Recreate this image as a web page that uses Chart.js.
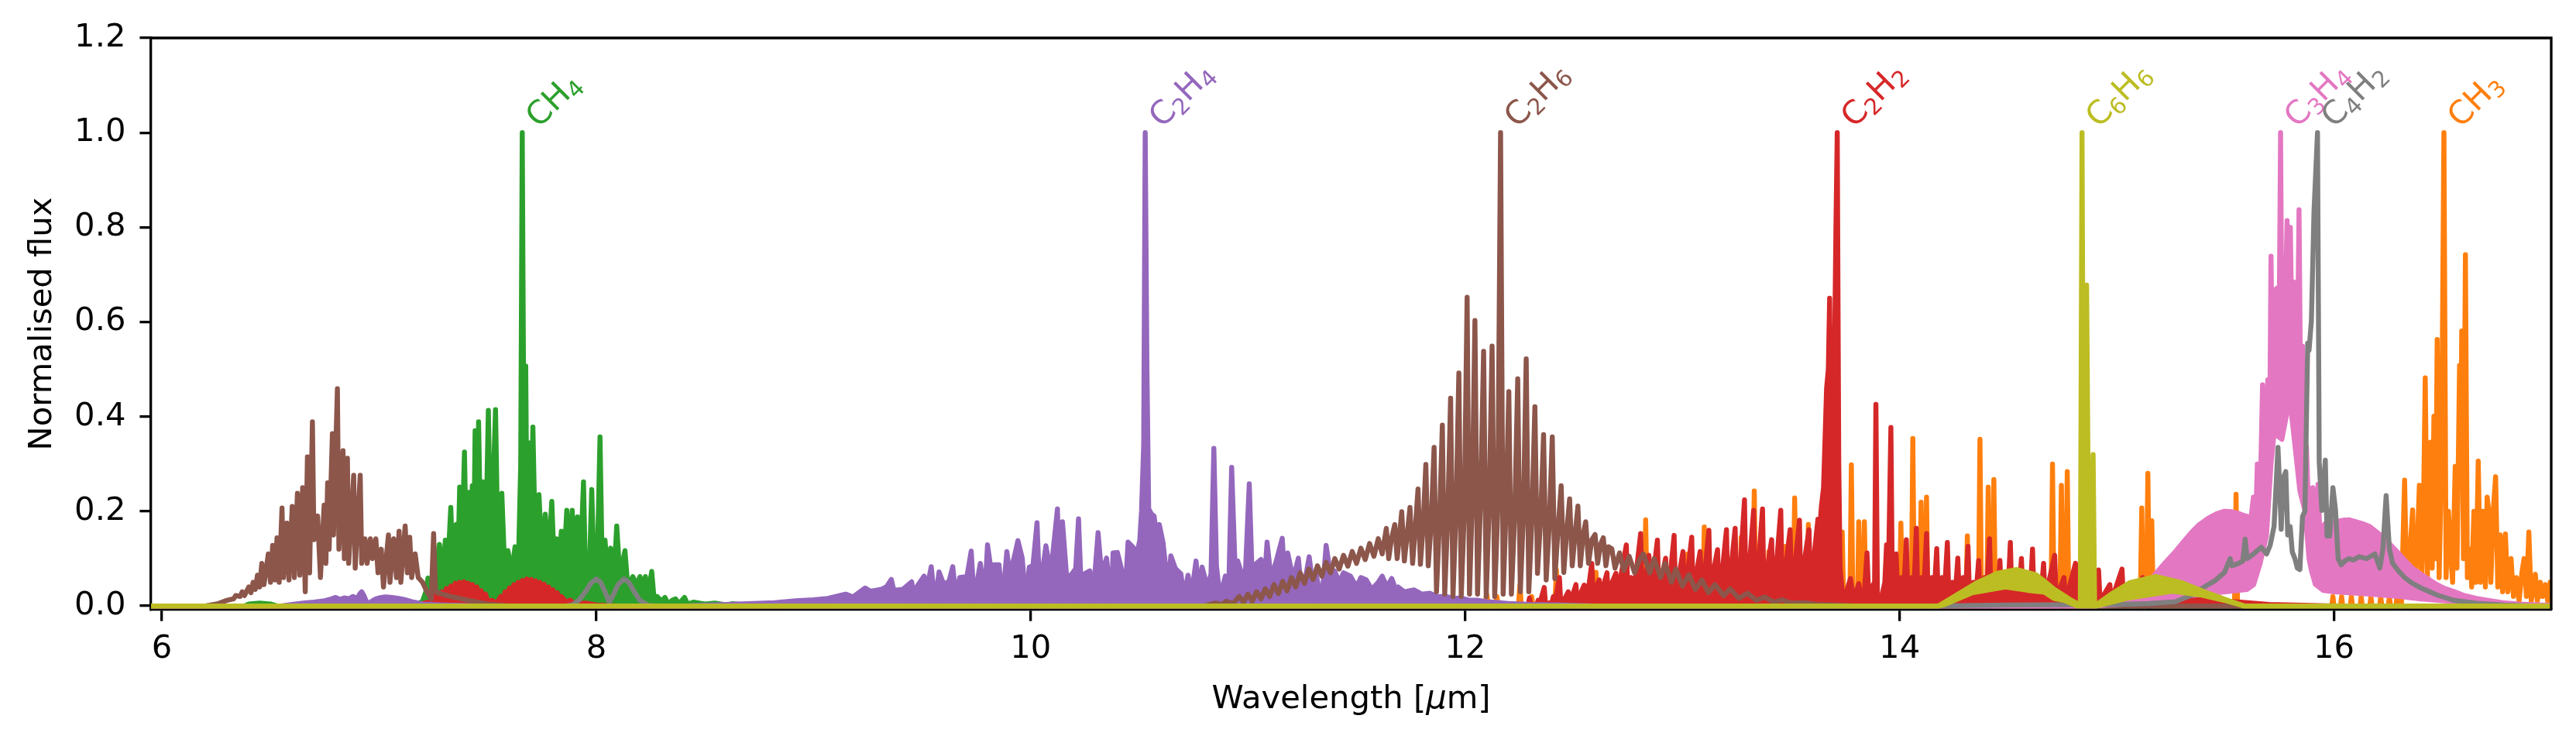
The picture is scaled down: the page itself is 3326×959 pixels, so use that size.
<!DOCTYPE html>
<html>
<head>
<meta charset="utf-8">
<script src="https://cdn.jsdelivr.net/npm/chart.js@4.4.1/dist/chart.umd.min.js"></script>
<style>
  html, body { margin: 0; padding: 0; background: #fff; }
  #wrap { width: 3326px; height: 959px; }
</style>
</head>
<body>
<div id="wrap"><canvas id="spectra" width="3326" height="959"></canvas></div>
<script>
// axis ticks
const xTicks = [6, 8, 10, 12, 14, 16];
const yTicks = [0, 0.2, 0.4, 0.6, 0.8, 1.0, 1.2];

// peak labels (molecule, wavelength of its strongest line)
const labelText = ['CH4', 'C2H4', 'C2H6', 'C2H2', 'C6H6', 'C3H4', 'C4H2', 'CH3'];
const labelX = [7.659, 10.527, 12.163, 13.713, 14.84, 15.754, 15.924, 16.506];

// spectra, [wavelength um, normalised flux]
const ch3Pts = [[5.9,0],[12.09,0],[12.099,0.025],[12.108,0],[12.14,0],[12.146,0.02],[12.152,0],[12.245,0],[12.252,0.044],[12.259,0],[12.3,0],[12.306,0.02],[12.312,0],[12.413,0],[12.42,0.076],[12.427,0],[12.595,0],[12.602,0.071],[12.609,0],
  [12.824,0],[12.831,0.182],[12.838,0],[13.018,0],[13.025,0.11],[13.032,0],[13.094,0],[13.101,0.167],[13.108,0],[13.18,0],[13.186,0.085],[13.192,0],[13.226,0],[13.232,0.085],[13.238,0],[13.264,0],[13.271,0.145],[13.278,0],[13.324,0],[13.331,0.243],[13.338,0],
  [13.391,0],[13.398,0.115],[13.405,0],[13.468,0],[13.475,0.126],[13.482,0],[13.51,0],[13.517,0.228],[13.524,0],[13.573,0],[13.58,0.172],[13.587,0],[13.655,0],[13.662,0.137],[13.669,0],[13.729,0],[13.736,0.156],[13.743,0],[13.771,0],[13.778,0.298],[13.785,0],
  [13.806,0],[13.812,0.178],[13.82,0.02],[13.832,0],[13.838,0.178],[13.845,0],[13.999,0],[14.006,0.175],[14.013,0],[14.054,0],[14.061,0.354],[14.068,0],[14.092,0],[14.099,0.219],[14.106,0.03],[14.117,0],[14.124,0.23],[14.131,0],
  [14.305,0],[14.312,0.148],[14.319,0],[14.363,0],[14.37,0.352],[14.377,0],[14.401,0],[14.408,0.251],[14.415,0.03],[14.427,0],[14.434,0.267],[14.441,0],[14.697,0],[14.704,0.3],[14.711,0],[14.738,0],[14.745,0.255],[14.752,0.02],[14.765,0],[14.772,0.284],[14.779,0],
  [15.108,0],[15.115,0.207],[15.122,0],[15.136,0],[15.143,0.28],[15.15,0.02],[15.156,0],[15.161,0.18],[15.168,0],[15.542,0],[15.549,0.236],[15.556,0],
  [15.99,0],[15.995,0.02],[16.0,0],[16.03,0],[16.035,0.02],[16.04,0],[16.075,0],[16.08,0.02],[16.085,0],[16.12,0],[16.125,0.02],[16.13,0],[16.165,0],[16.17,0.02],[16.175,0],[16.21,0],[16.215,0.02],[16.22,0],[16.25,0],[16.255,0.02],[16.26,0],[16.285,0],[16.29,0.02],[16.31,0],
  [16.325,0.266],[16.335,0.03],[16.35,0.12],[16.362,0.203],[16.372,0.03],[16.385,0.15],[16.393,0.255],[16.403,0.04],[16.412,0.2],[16.42,0.482],[16.43,0.06],[16.438,0.25],[16.445,0.346],[16.452,0.08],[16.46,0.401],[16.467,0.1],[16.475,0.563],[16.484,0.06],[16.495,0.3],[16.506,1.0],
  [16.516,0.06],[16.527,0.2],[16.536,0.119],[16.546,0.05],[16.558,0.295],[16.566,0.08],[16.578,0.508],[16.583,0.3],[16.588,0.581],[16.596,0.1],[16.605,0.742],[16.614,0.06],[16.626,0.12],[16.634,0.04],[16.644,0.2],[16.654,0.05],[16.664,0.306],[16.674,0.05],[16.686,0.2],
  [16.697,0.04],[16.705,0.23],[16.713,0.2],[16.722,0.05],[16.733,0.2],[16.744,0.273],[16.754,0.04],[16.765,0.15],[16.776,0.03],[16.789,0.152],[16.8,0.03],[16.815,0.1],[16.826,0.02],[16.84,0.06],[16.852,0.01],[16.865,0.07],[16.875,0.1],[16.886,0.02],[16.897,0.156],
  [16.908,0.01],[16.918,0.04],[16.927,0.067],[16.936,0.01],[16.95,0.05],[16.96,0.02],[16.973,0.045],[16.984,0.01],[16.995,0.05],[17.01,0.02],[17.05,0]];

const ch4Pts = [[5.9,0],[6.38,0],[6.4,0.004],[6.45,0.006],[6.5,0.004],[6.53,0],[7.15,0],[7.18,0.005],[7.2,0.01],[7.215,0.03],[7.225,0.059],[7.235,0.02],[7.25,0.04],[7.265,0.08],[7.278,0.13],[7.29,0.06],[7.305,0.139],[7.315,0.07],[7.33,0.208],[7.34,0.08],
  [7.355,0.172],[7.363,0.09],[7.371,0.251],[7.38,0.1],[7.393,0.325],[7.402,0.1],[7.412,0.24],[7.42,0.11],[7.429,0.254],[7.436,0.12],[7.442,0.37],[7.45,0.12],[7.458,0.389],[7.468,0.12],[7.478,0.262],[7.49,0.11],[7.503,0.413],[7.515,0.1],[7.536,0.415],[7.548,0.09],
  [7.565,0.238],[7.578,0.08],[7.593,0.117],[7.61,0.07],[7.626,0.125],[7.64,0.06],[7.652,0.3],[7.659,1.0],[7.667,0.3],[7.675,0.507],[7.681,0.15],[7.688,0.345],[7.698,0.12],[7.708,0.378],[7.72,0.11],[7.736,0.235],[7.75,0.1],[7.765,0.194],[7.78,0.1],[7.795,0.221],
  [7.806,0.09],[7.818,0.142],[7.828,0.08],[7.839,0.158],[7.85,0.08],[7.864,0.202],[7.876,0.09],[7.889,0.202],[7.9,0.08],[7.913,0.188],[7.925,0.07],[7.941,0.262],[7.95,0.07],[7.958,0.109],[7.968,0.07],[7.979,0.246],[7.99,0.06],[8.005,0.1],[8.017,0.357],[8.028,0.06],
  [8.04,0.139],[8.053,0.06],[8.066,0.122],[8.08,0.05],[8.094,0.169],[8.11,0.05],[8.12,0.09],[8.132,0.117],[8.145,0.04],[8.168,0.062],[8.185,0.045],[8.201,0.062],[8.215,0.04],[8.226,0.062],[8.24,0.03],[8.255,0.073],[8.265,0.02],[8.28,0.02],[8.3,0.01],[8.316,0.018],
  [8.33,0.005],[8.35,0.012],[8.365,0.015],[8.38,0.005],[8.406,0.018],[8.42,0.004],[8.447,0.008],[8.5,0.004],[8.546,0.006],[8.6,0.002],[8.628,0.005],[8.7,0.001],[8.743,0.003],[8.9,0],[17.1,0]];

const c2h2Pts = [[5.9,0],[7.15,0],[7.2,0.005],[7.24,0.01],[7.25,0.032],[7.262,0.008],[7.28,0.02],[7.29,0.03],[7.3,0.015],[7.31,0.037],[7.32,0.02],[7.33,0.042],[7.34,0.025],[7.35,0.048],[7.36,0.028],[7.37,0.05],[7.38,0.03],[7.39,0.051],[7.4,0.03],[7.41,0.048],
  [7.42,0.028],[7.43,0.045],[7.44,0.025],[7.45,0.04],[7.46,0.02],[7.47,0.032],[7.48,0.015],[7.49,0.025],[7.5,0.01],[7.52,0.012],[7.54,0.005],[7.56,0.02],[7.57,0.008],[7.58,0.03],[7.59,0.015],[7.6,0.038],[7.61,0.02],[7.62,0.045],[7.63,0.025],[7.64,0.05],
  [7.65,0.03],[7.66,0.054],[7.67,0.032],[7.68,0.057],[7.69,0.032],[7.7,0.056],[7.71,0.03],[7.72,0.053],[7.73,0.028],[7.74,0.05],[7.75,0.025],[7.76,0.046],[7.77,0.022],[7.78,0.04],[7.79,0.018],[7.8,0.034],[7.81,0.014],[7.82,0.028],[7.83,0.01],[7.84,0.02],
  [7.86,0.008],[7.88,0.012],[7.9,0.004],[7.95,0.006],[8.0,0.002],[8.1,0],[12.2,0],[12.29,0.002],[12.296,0.017],[12.302,0.002],[12.33,0.004],[12.336,0.012],[12.342,0.003],[12.364,0.039],[12.37,0.004],[12.4,0.008],[12.406,0.02],[12.412,0.005],[12.434,0.06],[12.44,0.006],
  [12.455,0.012],[12.475,0.03],[12.48,0.006],[12.493,0.02],[12.51,0.045],[12.516,0.008],[12.53,0.025],[12.548,0.044],[12.554,0.008],[12.566,0.03],[12.583,0.09],[12.59,0.01],[12.6,0.035],[12.617,0.055],[12.623,0.01],[12.635,0.04],[12.653,0.07],[12.66,0.01],[12.672,0.045],[12.694,0.069],
  [12.7,0.012],[12.712,0.05],[12.742,0.129],[12.75,0.015],[12.765,0.06],[12.775,0.02],[12.808,0.153],[12.815,0.015],[12.828,0.055],[12.846,0.107],[12.853,0.015],[12.865,0.06],[12.885,0.139],[12.892,0.015],[12.905,0.06],[12.923,0.101],[12.93,0.015],[12.943,0.06],[12.962,0.149],[12.969,0.015],
  [12.983,0.06],[13.003,0.115],[13.01,0.015],[13.023,0.065],[13.043,0.145],[13.05,0.015],[13.063,0.065],[13.082,0.115],[13.089,0.015],[13.102,0.065],[13.122,0.16],[13.129,0.015],[13.142,0.07],[13.162,0.119],[13.169,0.015],[13.183,0.07],[13.203,0.161],[13.21,0.015],[13.222,0.07],[13.243,0.164],
  [13.25,0.015],[13.265,0.07],[13.286,0.224],[13.293,0.015],[13.307,0.075],[13.328,0.202],[13.335,0.015],[13.348,0.075],[13.369,0.205],[13.376,0.015],[13.39,0.075],[13.411,0.14],[13.418,0.015],[13.432,0.08],[13.453,0.202],[13.46,0.015],[13.475,0.08],[13.496,0.161],[13.503,0.02],[13.517,0.08],
  [13.539,0.181],[13.546,0.02],[13.56,0.09],[13.583,0.161],[13.59,0.03],[13.605,0.1],[13.624,0.183],[13.632,0.16],[13.64,0.21],[13.65,0.25],[13.664,0.46],[13.672,0.5],[13.678,0.65],[13.685,0.29],[13.692,0.33],[13.7,0.5],[13.707,0.8],[13.713,1.0],[13.72,0.3],[13.726,0.08],
  [13.736,0.03],[13.75,0.02],[13.762,0.04],[13.774,0.058],[13.785,0.02],[13.8,0.03],[13.812,0.047],[13.822,0.02],[13.838,0.03],[13.85,0.112],[13.858,0.02],[13.872,0.04],[13.885,0.05],[13.891,0.426],[13.898,0.02],[13.915,0.014],[13.932,0.05],[13.94,0.129],[13.947,0.02],[13.96,0.377],
  [13.967,0.02],[13.984,0.11],[13.992,0.02],[14.008,0.06],[14.018,0.015],[14.031,0.14],[14.038,0.015],[14.055,0.06],[14.065,0.015],[14.077,0.164],[14.084,0.015],[14.1,0.06],[14.11,0.015],[14.124,0.153],[14.131,0.015],[14.148,0.06],[14.158,0.015],[14.171,0.121],[14.178,0.015],[14.195,0.06],
  [14.205,0.015],[14.22,0.134],[14.227,0.015],[14.244,0.05],[14.255,0.015],[14.268,0.101],[14.275,0.015],[14.292,0.06],[14.302,0.015],[14.315,0.126],[14.322,0.015],[14.34,0.05],[14.35,0.015],[14.364,0.096],[14.371,0.015],[14.39,0.06],[14.4,0.015],[14.414,0.142],[14.421,0.015],[14.44,0.05],
  [14.45,0.015],[14.462,0.096],[14.469,0.015],[14.488,0.05],[14.498,0.015],[14.51,0.134],[14.517,0.015],[14.535,0.05],[14.548,0.015],[14.561,0.1],[14.568,0.015],[14.588,0.05],[14.6,0.015],[14.612,0.12],[14.619,0.015],[14.64,0.05],[14.65,0.015],[14.663,0.09],[14.67,0.015],[14.714,0.107],
  [14.721,0.015],[14.757,0.06],[14.764,0.01],[14.81,0.09],[14.817,0.01],[14.87,0.04],[14.877,0.01],[14.916,0.076],[14.923,0.01],[14.968,0.045],[14.975,0.01],[15.024,0.078],[15.031,0.008],[15.081,0.03],[15.088,0.008],[15.119,0.06],[15.126,0.008],[15.179,0.023],[15.186,0.006],[15.24,0.03],
  [15.247,0.006],[15.285,0.02],[15.292,0.005],[15.345,0.015],[15.42,0.012],[15.5,0.01],[15.57,0.008],[15.7,0.003],[16.0,0],[17.1,0]];

const c2h4Pts = [[5.9,0],[6.55,0],[6.6,0.003],[6.65,0.006],[6.7,0.008],[6.75,0.011],[6.78,0.015],[6.8,0.018],[6.82,0.014],[6.84,0.017],[6.86,0.015],[6.88,0.02],[6.9,0.016],[6.91,0.025],[6.92,0.03],[6.93,0.022],[6.945,0.005],[6.96,0.008],[6.98,0.014],[7.0,0.017],
  [7.03,0.019],[7.06,0.018],[7.09,0.016],[7.12,0.013],[7.16,0.008],[7.2,0.004],[7.3,0.002],[7.5,0],[8.4,0],[8.6,0.003],[8.82,0.007],[8.918,0.011],[9.0,0.013],[9.066,0.016],[9.148,0.025],[9.181,0.019],[9.238,0.038],[9.263,0.031],[9.312,0.035],[9.337,0.041],
  [9.358,0.056],[9.37,0.033],[9.411,0.035],[9.452,0.051],[9.463,0.007],[9.476,0.041],[9.509,0.063],[9.526,0.046],[9.542,0.083],[9.558,0.007],[9.578,0.072],[9.599,0.046],[9.624,0.052],[9.641,0.083],[9.657,0.014],[9.673,0.06],[9.706,0.062],[9.726,0.116],[9.739,0.014],[9.768,0.09],
  [9.788,0.019],[9.801,0.129],[9.818,0.074],[9.829,0.087],[9.854,0.087],[9.87,0.007],[9.89,0.115],[9.903,0.068],[9.923,0.101],[9.941,0.138],[9.961,0.101],[9.977,0.007],[9.993,0.082],[10.01,0.085],[10.029,0.176],[10.043,0.007],[10.054,0.074],[10.07,0.127],[10.092,0.068],[10.123,0.205],
  [10.133,0.007],[10.146,0.178],[10.166,0.057],[10.19,0.068],[10.207,0.079],[10.22,0.184],[10.235,0.007],[10.248,0.068],[10.272,0.074],[10.285,0.007],[10.31,0.155],[10.326,0.068],[10.349,0.101],[10.371,0.007],[10.379,0.112],[10.399,0.113],[10.42,0.074],[10.436,0.033],[10.448,0.135],[10.469,0.125],
  [10.49,0.112],[10.502,0.139],[10.51,0.2],[10.52,0.34],[10.527,1.0],[10.535,0.5],[10.543,0.205],[10.556,0.194],[10.568,0.19],[10.579,0.15],[10.592,0.172],[10.609,0.134],[10.625,0.068],[10.633,0.038],[10.645,0.106],[10.666,0.079],[10.691,0.068],[10.707,0.019],[10.724,0.065],[10.74,0.025],
  [10.761,0.095],[10.776,0.025],[10.789,0.082],[10.814,0.038],[10.83,0.068],[10.843,0.333],[10.855,0.085],[10.871,0.019],[10.896,0.063],[10.912,0.046],[10.925,0.293],[10.94,0.09],[10.953,0.095],[10.986,0.046],[11.006,0.258],[11.019,0.068],[11.039,0.09],[11.06,0.098],[11.071,0.019],[11.088,0.135],
  [11.104,0.068],[11.117,0.074],[11.134,0.101],[11.158,0.143],[11.171,0.041],[11.183,0.112],[11.208,0.057],[11.232,0.101],[11.249,0.019],[11.282,0.104],[11.298,0.046],[11.314,0.068],[11.339,0.007],[11.36,0.128],[11.379,0.068],[11.399,0.074],[11.42,0.05],[11.44,0.07],[11.472,0.063],[11.5,0.04],
  [11.52,0.06],[11.545,0.055],[11.57,0.035],[11.6,0.05],[11.618,0.063],[11.64,0.04],[11.662,0.058],[11.68,0.035],[11.691,0.04],[11.72,0.03],[11.764,0.034],[11.8,0.025],[11.837,0.027],[11.87,0.02],[11.91,0.02],[11.95,0.016],[11.982,0.017],[12.02,0.012],[12.055,0.012],[12.1,0.009],
  [12.128,0.008],[12.2,0.005],[12.3,0.003],[12.45,0.002],[12.6,0],[17.1,0]];

const c2h6Pts = [[5.9,0],[6.2,0],[6.26,0.005],[6.3,0.012],[6.33,0.015],[6.34,0.022],[6.36,0.02],[6.37,0.03],[6.38,0.022],[6.4,0.04],[6.41,0.028],[6.42,0.05],[6.43,0.035],[6.44,0.065],[6.45,0.04],[6.46,0.09],[6.47,0.045],[6.49,0.11],[6.5,0.05],[6.51,0.128],
  [6.52,0.055],[6.53,0.144],[6.54,0.05],[6.553,0.207],[6.56,0.06],[6.575,0.175],[6.585,0.055],[6.6,0.21],[6.61,0.06],[6.624,0.238],[6.635,0.065],[6.648,0.25],[6.66,0.03],[6.67,0.315],[6.68,0.07],[6.693,0.389],[6.7,0.14],[6.717,0.19],[6.73,0.06],[6.747,0.213],
  [6.755,0.09],[6.763,0.26],[6.77,0.12],[6.785,0.364],[6.79,0.15],[6.808,0.459],[6.815,0.12],[6.834,0.328],[6.84,0.1],[6.854,0.312],[6.86,0.09],[6.883,0.276],[6.89,0.08],[6.913,0.276],[6.92,0.09],[6.935,0.142],[6.945,0.09],[6.96,0.142],[6.97,0.1],[6.985,0.142],
  [6.995,0.07],[7.01,0.12],[7.02,0.04],[7.043,0.15],[7.05,0.05],[7.067,0.142],[7.08,0.06],[7.092,0.158],[7.1,0.05],[7.12,0.169],[7.13,0.07],[7.141,0.145],[7.15,0.06],[7.166,0.11],[7.18,0.06],[7.2,0.05],[7.22,0.03],[7.24,0.015],[7.251,0.153],[7.26,0.03],
  [7.29,0.025],[7.33,0.02],[7.38,0.015],[7.45,0.008],[7.5,0.004],[7.6,0],[10.8,0],[10.85,0.006],[10.88,0.003],[10.9,0.01],[10.93,0.005],[10.96,0.02],[10.98,0.008],[11.0,0.025],[11.02,0.01],[11.04,0.03],[11.06,0.015],[11.08,0.036],[11.1,0.02],[11.12,0.045],
  [11.14,0.026],[11.16,0.052],[11.18,0.032],[11.2,0.06],[11.22,0.04],[11.24,0.07],[11.26,0.048],[11.28,0.078],[11.3,0.056],[11.32,0.085],[11.34,0.063],[11.36,0.092],[11.38,0.07],[11.4,0.1],[11.42,0.078],[11.44,0.107],[11.46,0.084],[11.48,0.115],[11.5,0.09],[11.52,0.122],
  [11.54,0.098],[11.56,0.132],[11.58,0.105],[11.6,0.142],[11.618,0.11],[11.637,0.164],[11.648,0.1],[11.66,0.14],[11.676,0.172],[11.687,0.1],[11.697,0.145],[11.708,0.199],[11.72,0.095],[11.733,0.15],[11.746,0.208],[11.758,0.09],[11.77,0.16],[11.783,0.247],[11.794,0.088],[11.806,0.165],
  [11.819,0.299],[11.83,0.085],[11.843,0.17],[11.857,0.335],[11.868,0.03],[11.882,0.18],[11.895,0.382],[11.906,0.025],[11.92,0.19],[11.933,0.439],[11.944,0.02],[11.958,0.2],[11.971,0.492],[11.982,0.02],[11.996,0.2],[12.009,0.652],[12.02,0.025],[12.032,0.21],[12.045,0.603],[12.057,0.025],
  [12.07,0.21],[12.085,0.538],[12.097,0.02],[12.11,0.2],[12.124,0.549],[12.136,0.02],[12.15,0.2],[12.163,1.0],[12.175,0.025],[12.188,0.2],[12.201,0.453],[12.213,0.025],[12.228,0.19],[12.242,0.48],[12.254,0.03],[12.268,0.19],[12.281,0.522],[12.293,0.03],[12.307,0.18],[12.321,0.421],
  [12.333,0.069],[12.347,0.18],[12.361,0.362],[12.373,0.055],[12.387,0.17],[12.401,0.357],[12.413,0.058],[12.428,0.165],[12.442,0.254],[12.454,0.071],[12.468,0.16],[12.481,0.226],[12.493,0.085],[12.507,0.155],[12.519,0.211],[12.53,0.085],[12.543,0.15],[12.555,0.178],[12.568,0.09],[12.583,0.14],
  [12.598,0.151],[12.61,0.09],[12.623,0.13],[12.636,0.144],[12.648,0.085],[12.66,0.125],[12.675,0.121],[12.69,0.08],[12.711,0.112],[12.73,0.075],[12.755,0.105],[12.78,0.07],[12.8,0.095],[12.82,0.11],[12.85,0.07],[12.87,0.1],[12.9,0.06],[12.92,0.09],[12.95,0.05],[12.97,0.078],
  [13.0,0.042],[13.03,0.066],[13.06,0.035],[13.09,0.055],[13.12,0.028],[13.15,0.045],[13.19,0.022],[13.22,0.036],[13.26,0.016],[13.3,0.027],[13.34,0.012],[13.38,0.019],[13.42,0.008],[13.46,0.013],[13.5,0.006],[13.56,0.007],[13.62,0.003],[13.7,0.002],[13.8,0],[17.1,0]];

const c3h4UpPts = [[5.9,0],[14.9,0],[15.0,0.004],[15.08,0.01],[15.13,0.025],[15.164,0.06],[15.22,0.09],[15.27,0.115],[15.31,0.137],[15.345,0.156],[15.38,0.172],[15.42,0.185],[15.46,0.195],[15.496,0.2],[15.53,0.199],[15.556,0.196],[15.58,0.192],[15.601,0.189],[15.617,0.182],[15.629,0.23],
  [15.639,0.17],[15.647,0.3],[15.659,0.2],[15.671,0.467],[15.683,0.25],[15.695,0.478],[15.703,0.32],[15.71,0.739],[15.718,0.45],[15.727,0.664],[15.736,0.671],[15.746,0.5],[15.754,1.0],[15.762,0.42],[15.772,0.55],[15.784,0.814],[15.791,0.5],[15.799,0.8],[15.807,0.55],[15.813,0.685],
  [15.823,0.45],[15.831,0.5],[15.839,0.837],[15.848,0.35],[15.855,0.549],[15.863,0.25],[15.873,0.338],[15.885,0.18],[15.902,0.25],[15.914,0.12],[15.926,0.257],[15.938,0.12],[15.95,0.17],[15.962,0.175],[16.0,0.178],[16.04,0.181],[16.069,0.182],[16.1,0.178],[16.13,0.174],[16.164,0.168],
  [16.2,0.155],[16.235,0.141],[16.25,0.134],[16.29,0.115],[16.325,0.097],[16.36,0.08],[16.4,0.067],[16.44,0.055],[16.475,0.045],[16.51,0.037],[16.55,0.031],[16.6,0.022],[16.656,0.016],[16.72,0.011],[16.777,0.007],[16.852,0.004],[16.95,0.002],[17.1,0]];
const c3h4LowPts = [[5.9,0],[14.9,0],[15.0,0.003],[15.1,0.01],[15.2,0.015],[15.3,0.02],[15.4,0.025],[15.5,0.03],[15.6,0.035],[15.63,0.045],[15.66,0.09],[15.689,0.148],[15.71,0.3],[15.724,0.365],[15.76,0.352],[15.78,0.4],[15.796,0.44],[15.82,0.34],[15.843,0.243],[15.867,0.2],
  [15.885,0.1],[15.897,0.073],[15.914,0.046],[15.95,0.033],[16.0,0.03],[16.1,0.027],[16.2,0.024],[16.3,0.02],[16.4,0.015],[16.5,0.011],[16.6,0.008],[16.8,0.003],[17.1,0]];

const c4h2Pts = [[5.9,0],[7.86,0],[7.89,0.002],[7.92,0.012],[7.95,0.03],[7.975,0.048],[8.0,0.057],[8.02,0.05],[8.04,0.03],[8.06,0.008],[8.08,0.025],[8.1,0.045],[8.127,0.057],[8.15,0.05],[8.175,0.03],[8.2,0.012],[8.24,0.001],[8.28,0],[14.15,0],[14.5,0.002],
  [15.0,0.003],[15.15,0.005],[15.27,0.009],[15.345,0.023],[15.42,0.045],[15.451,0.053],[15.496,0.071],[15.51,0.087],[15.522,0.1],[15.53,0.085],[15.56,0.09],[15.58,0.095],[15.591,0.141],[15.6,0.1],[15.63,0.11],[15.665,0.124],[15.69,0.11],[15.706,0.128],[15.724,0.168],[15.734,0.26],
  [15.742,0.335],[15.75,0.25],[15.757,0.162],[15.766,0.27],[15.778,0.284],[15.787,0.15],[15.798,0.168],[15.808,0.114],[15.82,0.1],[15.831,0.08],[15.843,0.077],[15.855,0.189],[15.866,0.2],[15.879,0.555],[15.885,0.54],[15.896,0.603],[15.908,0.834],[15.924,1.0],[15.932,0.304],[15.944,0.202],
  [15.96,0.308],[15.968,0.148],[15.98,0.148],[15.995,0.25],[16.007,0.202],[16.019,0.1],[16.033,0.087],[16.05,0.095],[16.069,0.1],[16.09,0.097],[16.116,0.104],[16.15,0.1],[16.188,0.11],[16.211,0.08],[16.225,0.12],[16.24,0.233],[16.255,0.12],[16.27,0.09],[16.295,0.075],[16.325,0.06],
  [16.36,0.048],[16.4,0.038],[16.44,0.03],[16.475,0.023],[16.55,0.012],[16.671,0.005],[16.78,0.002],[16.9,0],[17.1,0]];

const c6h6UpPts = [[5.9,0],[14.18,0],[14.27,0.025],[14.36,0.05],[14.45,0.069],[14.538,0.077],[14.628,0.066],[14.667,0.052],[14.71,0.036],[14.74,0.027],[14.78,0.015],[14.818,0.005],[14.832,0.002],[14.84,1.0],[14.848,0.03],[14.861,0.678],[14.872,0.03],[14.891,0.32],[14.898,0],
  [14.968,0.023],[15.059,0.049],[15.179,0.062],[15.3,0.049],[15.42,0.027],[15.51,0.012],[15.586,0],[17.1,0]];
const c6h6LowPts = [[5.9,0],[14.18,0],[14.207,0.003],[14.335,0.028],[14.487,0.04],[14.59,0.033],[14.667,0.029],[14.71,0.016],[14.757,0.012],[14.818,0],[14.908,0],[15.044,0.016],[15.255,0.031],[15.39,0.023],[15.51,0.01],[15.586,0],[17.1,0]];

const colors = {
  CH3: '#ff7f0e', CH4: '#2ca02c', C2H2: '#d62728', C2H4: '#9467bd',
  C2H6: '#8c564b', C3H4: '#e377c2', C4H2: '#7f7f7f', C6H6: '#bcbd22'
};

const FONT = 'DejaVu Sans';
const FS = 41.7;   // 10 pt at 300 dpi
const LW = 6.4;

function lineSet(name, pts, fill) {
  return {
    label: name,
    data: pts,
    showLine: true,
    borderColor: colors[name],
    backgroundColor: colors[name],
    borderWidth: LW,
    borderJoinStyle: 'round',
    pointRadius: 0,
    tension: 0,
    fill: fill
  };
}

// same order as the original plotting calls: later ones lie on top
const datasets = [
  lineSet('CH3', ch3Pts, false),
  lineSet('CH4', ch4Pts, 'origin'),
  lineSet('C2H2', c2h2Pts, 'origin'),
  lineSet('C2H4', c2h4Pts, 'origin'),
  lineSet('C2H6', c2h6Pts, false),
  lineSet('C3H4', c3h4UpPts, '+1'),
  lineSet('C3H4', c3h4LowPts, false),
  lineSet('C4H2', c4h2Pts, false),
  lineSet('C6H6', c6h6UpPts, '+1'),
  lineSet('C6H6', c6h6LowPts, false)
];
datasets.forEach((d, i) => { d.order = datasets.length - i; });

// formula like C2H4 with the digits as subscripts, rotated 45 deg
function drawFormula(ctx, text, px, py, color) {
  const parts = text.match(/[A-Za-z]+|\d+/g);
  const asc = 0.73 * FS, desc = 0.17 * FS;
  const k = Math.SQRT1_2;
  ctx.save();
  ctx.fillStyle = color;
  ctx.textBaseline = 'alphabetic';
  ctx.textAlign = 'left';
  ctx.translate(px + k * asc, py - k * desc);
  ctx.rotate(-Math.PI / 4);
  let cx = 0;
  parts.forEach(p => {
    if (/\d/.test(p)) {
      ctx.font = (FS * 0.7) + 'px "' + FONT + '"';
      ctx.fillText(p, cx, 0.17 * FS);
    } else {
      ctx.font = FS + 'px "' + FONT + '"';
      ctx.fillText(p, cx, 0);
    }
    cx += ctx.measureText(p).width;
  });
  ctx.restore();
}

const decorPlugin = {
  id: 'decor',
  afterDraw(chart) {
    const { ctx, chartArea: a, scales } = chart;
    ctx.save();

    // top and right spines
    ctx.strokeStyle = '#000';
    ctx.lineWidth = 3.3;
    ctx.beginPath();
    ctx.moveTo(a.left, a.top);
    ctx.lineTo(a.right, a.top);
    ctx.lineTo(a.right, a.bottom);
    ctx.stroke();

    // peak labels
    const y1 = scales.y.getPixelForValue(1.0);
    labelText.forEach((t, i) => {
      drawFormula(ctx, t, scales.x.getPixelForValue(labelX[i]), y1, colors[t]);
    });

    // axis titles
    ctx.fillStyle = '#000';
    ctx.textBaseline = 'alphabetic';
    const normal = FS + 'px "' + FONT + '"';
    const italic = 'italic ' + FS + 'px "' + FONT + '"';
    const parts = [['Wavelength [', normal], ['\u03bc', italic], ['m]', normal]];
    let w = 0;
    parts.forEach(p => { ctx.font = p[1]; w += ctx.measureText(p[0]).width; });
    let tx = (a.left + a.right) / 2 - w / 2;
    ctx.textAlign = 'left';
    parts.forEach(p => {
      ctx.font = p[1];
      ctx.fillText(p[0], tx, 914);
      tx += ctx.measureText(p[0]).width;
    });

    ctx.translate(66, (a.top + a.bottom) / 2);
    ctx.rotate(-Math.PI / 2);
    ctx.font = normal;
    ctx.textAlign = 'center';
    ctx.fillText('Normalised flux', 0, 0);
    ctx.restore();
  }
};

const axisGrid = {
  display: true,
  drawOnChartArea: false,
  drawTicks: true,
  tickLength: 14.6,
  lineWidth: 3.3,
  color: '#000'
};

Chart.defaults.font.family = FONT;

new Chart(document.getElementById('spectra'), {
  type: 'scatter',
  data: { datasets },
  options: {
    responsive: false,
    devicePixelRatio: 1,
    animation: false,
    events: [],
    layout: { padding: { left: 0, right: 32, top: 49, bottom: 0 } },
    plugins: {
      legend: { display: false },
      tooltip: { enabled: false }
    },
    scales: {
      x: {
        type: 'linear',
        min: 5.95,
        max: 17.0,
        afterBuildTicks: s => { s.ticks = xTicks.map(v => ({ value: v })); },
        afterFit: s => { s.height = 172; },
        grid: axisGrid,
        border: { display: true, color: '#000', width: 3.3 },
        ticks: {
          color: '#000',
          font: { family: FONT, size: FS },
          padding: 12,
          maxRotation: 0,
          autoSkip: false,
          callback: v => String(v)
        }
      },
      y: {
        type: 'linear',
        min: -0.008,
        max: 1.2,
        afterBuildTicks: s => { s.ticks = yTicks.map(v => ({ value: v })); },
        afterFit: s => { s.width = 195; },
        grid: axisGrid,
        border: { display: true, color: '#000', width: 3.3 },
        ticks: {
          color: '#000',
          font: { family: FONT, size: FS },
          padding: 18,
          autoSkip: false,
          callback: v => v.toFixed(1)
        }
      }
    }
  },
  plugins: [decorPlugin]
});
</script>
</body>
</html>
